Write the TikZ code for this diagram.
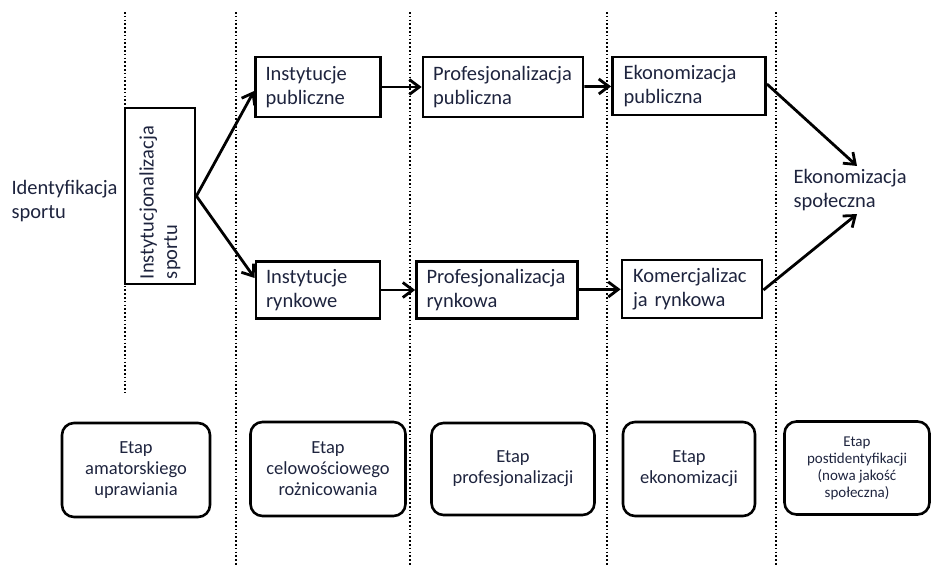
\documentclass[tikz,border=0pt]{standalone}
\usepackage{fontspec}
\setmainfont{Carlito}
\usetikzlibrary{arrows.meta,positioning}

\definecolor{inkblue}{RGB}{30,36,62}

\begin{document}
\begin{tikzpicture}[x=1pt, y=-1pt,
        every node/.style = {text=inkblue, font=\fontsize{20.5}{23.5}\selectfont},
        stagebox/.style = {draw=black, line width=2.8pt, rectangle, align=left, inner sep=0pt},
        etapbox/.style = {draw=black, line width=2.6pt, rounded corners=12pt, align=center,
                          font=\fontsize{18.5}{21}\selectfont},
        divider/.style = {line width=2.4pt, dash pattern=on 1.6pt off 2.2pt},
        flow/.style = {-{Straight Barb[length=10pt,width=15pt,line width=2.8pt]}, line width=2.8pt}]
        \useasboundingbox (0,0) rectangle (931,570);

        % pionowe linie podzialu etapow
        \draw[divider] (125,12) -- (125,393);
        \foreach \xd/\yd in {236/565, 410/565, 607/565, 776/565}
            \draw[divider] (\xd,12) -- (\xd,\yd);

        % gorny rzad
        \node (ident) [anchor=west, align=left] at (8,201) {Identyfikacja\\sportu};
        \node (instsport) [stagebox, rotate=90, minimum width=176pt, minimum height=70pt,
                text width=166pt] at (160,196) {Instytucjonalizacja\\sportu};
        \node (instpub) [stagebox, minimum width=125pt, minimum height=60pt, text width=105pt] at (318,87) {Instytucje\\publiczne};
        \node (profpub) [stagebox, minimum width=160pt, minimum height=60pt, text width=140pt] at (503,87) {Profesjonalizacja\\publiczna};
        \node (ekopub) [stagebox, minimum width=153pt, minimum height=58pt, text width=131pt] at (689,86) {Ekonomizacja\\publiczna};
        \node (ekospol) [anchor=west, align=left] at (790,190) {Ekonomizacja\\społeczna};

        % dolny rzad
        \node (instryn) [stagebox, minimum width=124pt, minimum height=57pt, text width=104pt] at (318,290) {Instytucje\\rynkowe};
        \node (profryn) [stagebox, minimum width=161pt, minimum height=57pt, text width=141pt] at (497,290) {Profesjonalizacja\\rynkowa};
        \node (komryn) [stagebox, minimum width=140pt, minimum height=58pt, text width=118pt] at (692,289) {Komercjalizac\\ja rynkowa};

        % strzalki
        \draw[flow] (instsport.south) -- (instpub.west |- 0,91);
        \draw[flow] (instsport.south) -- (instryn.west |- 0,278);
        \draw[flow] (instpub) -- (profpub);
        \draw[flow] (profpub) -- (ekopub);
        \draw[flow] (instryn) -- (profryn);
        \draw[flow] (profryn) -- (komryn);
        \draw[flow] (ekopub.east |- 0,84) -- (ekospol.north -| 857,0);
        \draw[flow] (komryn.east |- 0,290) -- (ekospol.south -| 857,0);

        % etapy
        \node (etap1) [etapbox, minimum width=148pt, minimum height=94pt] at (136,470) {Etap\\amatorskiego\\uprawiania};
        \node (etap2) [etapbox, minimum width=155pt, minimum height=94pt] at (328,469) {Etap\\celowościowego\\rożnicowania};
        \node (etap3) [etapbox, minimum width=163pt, minimum height=92pt] at (513,469) {Etap\\profesjonalizacji};
        \node (etap4) [etapbox, minimum width=132pt, minimum height=94pt] at (689,469) {Etap\\ekonomizacji};
        \node (etap5) [etapbox, minimum width=145pt, minimum height=93pt,
                font=\fontsize{15}{17}\selectfont] at (857,468) {Etap\\postidentyfikacji\\(nowa jakość\\społeczna)};
    \end{tikzpicture}
\end{document}
